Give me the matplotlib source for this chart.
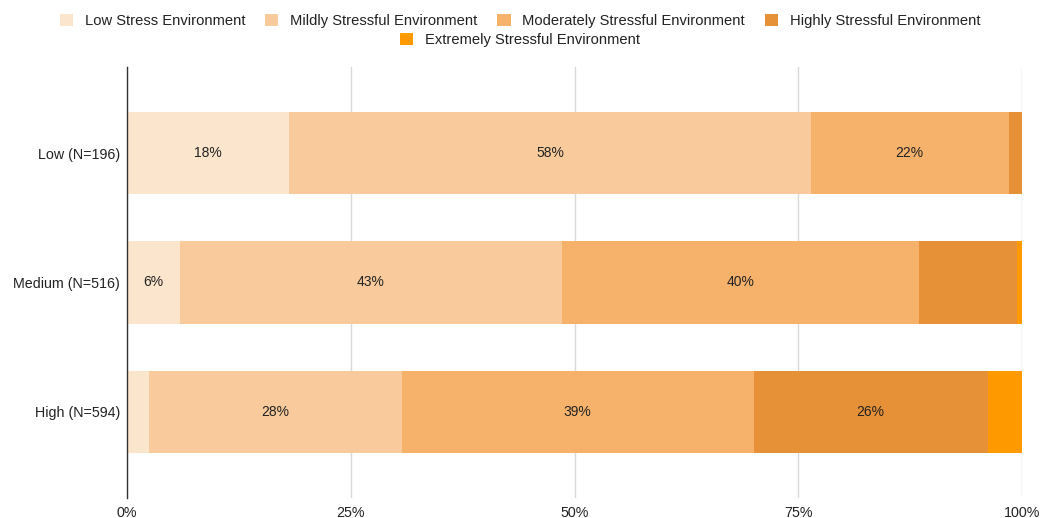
import matplotlib
matplotlib.use("Agg")
import matplotlib.pyplot as plt
from matplotlib.patches import Patch
from matplotlib.ticker import PercentFormatter

plt.rcParams['font.family'] = ['Liberation Sans', 'DejaVu Sans']

groups = ["Low (N=196)", "Medium (N=516)", "High (N=594)"]
series = ["Low Stress Environment", "Mildly Stressful Environment",
          "Moderately Stressful Environment", "Highly Stressful Environment",
          "Extremely Stressful Environment"]
colors = ["#FCE5CD", "#F9CB9C", "#F6B26B", "#E69138", "#FF9900"]

# share (%) of each environment per group
low_stress = [18.1, 5.9, 2.5]
mild_stress = [58.3, 42.7, 28.2]
moderate_stress = [22.1, 39.9, 39.3]
high_stress = [1.5, 10.9, 26.2]
extreme_stress = [0.0, 0.6, 3.8]
values = [low_stress, mild_stress, moderate_stress, high_stress, extreme_stress]

# which segments carry a value label
show_label = [
    [True, True, False],
    [True, True, True],
    [True, True, True],
    [False, False, True],
    [False, False, False],
]

fig = plt.figure(figsize=(10.4, 5.18), dpi=100)
ax = fig.add_axes([127 / 1040, 1 - 498 / 518, 895 / 1040, 431 / 518])

ypos = list(range(len(groups)))
left = [0.0] * len(groups)
for name, vals, col, mask in zip(series, values, colors, show_label):
    ax.barh(ypos, vals, left=left, height=0.64, color=col, edgecolor='none', zorder=2)
    for y, v, l, m in zip(ypos, vals, left, mask):
        if m:
            ax.text(l + v / 2, y, f"{round(v)}%", ha='center', va='center',
                    fontsize=10, color='#222222', zorder=3)
    left = [a + b for a, b in zip(left, vals)]

ax.set_xlim(0, 100)
ax.set_ylim(2.665, -0.665)
ax.set_yticks(ypos)
ax.set_yticklabels(groups, fontsize=10.3, color='#222222')
ax.set_xticks([0, 25, 50, 75, 100])
ax.xaxis.set_major_formatter(PercentFormatter(decimals=0))
ax.tick_params(axis='x', labelsize=10.3, colors='#222222', length=0, pad=5.5)
ax.tick_params(axis='y', length=0, pad=5)
ax.grid(axis='x', color='#d9d9d9', linewidth=1, zorder=0)
for s in ['top', 'right', 'bottom']:
    ax.spines[s].set_visible(False)
ax.spines['left'].set_color('#333333')
ax.spines['left'].set_linewidth(1)
ax.spines['left'].set_zorder(4)

handles = [Patch(facecolor=c, edgecolor='none') for c in colors]
kw = dict(frameon=False, fontsize=10.6, handlelength=0.9, handleheight=0.9,
          handletextpad=0.8, columnspacing=1.35, labelcolor='#222222')
leg1 = fig.legend(handles[:4], series[:4], ncol=4, loc='center',
                  bbox_to_anchor=(0.5, 1 - 21 / 518), **kw)
leg2 = fig.legend(handles[4:], series[4:], ncol=1, loc='center',
                  bbox_to_anchor=(0.5, 1 - 40 / 518), **kw)

fig.savefig("out.png", dpi=100)
